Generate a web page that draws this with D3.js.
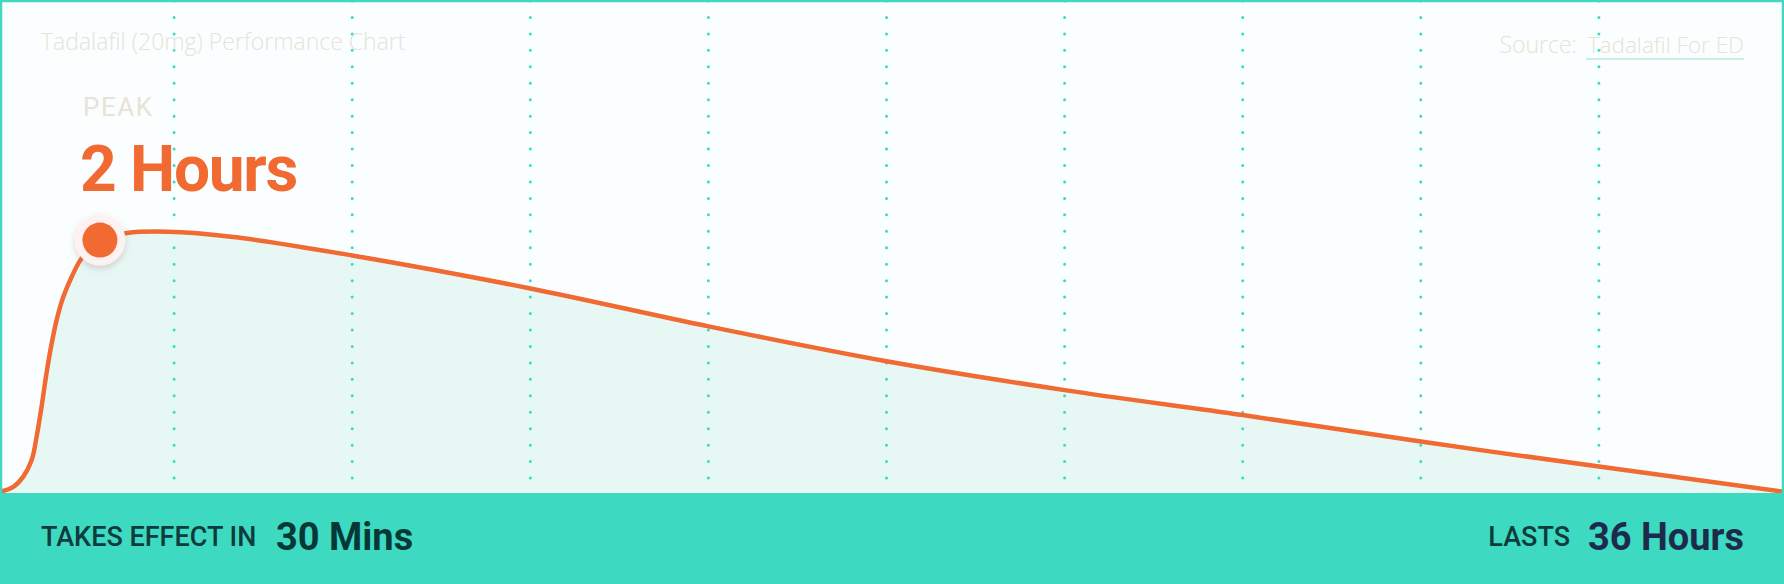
<!DOCTYPE html>
<meta charset="utf-8">
<script src="https://d3js.org/d3.v7.min.js"></script>
<style>
  body { margin: 0; background: #fff; }
  svg { display: block; }
</style>
<body>
<svg width="1784" height="584"></svg>
<script>
// effect curve, hours after dose vs relative effect (peak = 100)
var hours  = [0, 0.25, 0.45, 0.62, 0.72, 0.82, 0.92, 1.025, 1.125, 1.26, 1.43, 1.63, 2, 2.55, 3.36, 4.7, 7.1, 10.7, 14.3, 17.9, 21.5, 25.1, 28.7, 32.3, 36];
var effect = [0, 1.8, 5.7, 12.1, 21.1, 32.6, 45.5, 57.0, 66.0, 74.9, 82.6, 89.7, 96.7, 99.4, 99.9, 97.9, 90.8, 78.1, 63.5, 50.1, 39.0, 29.4, 19.2, 9.6, 0];
var gridCols = [1, 2, 3, 4, 5, 6, 7, 8, 9];   // guides between the 10 columns
var peak = { hour: 2, effect: 96.7 };

var title = 'Tadalafil (20mg) Performance Chart';
var sourceLabel = 'Source:', sourceName = 'Tadalafil For ED';
var peakLabel = 'PEAK', peakValue = '2 Hours';
var onsetLabel = 'TAKES EFFECT IN', onsetValue = '30 Mins';
var lastsLabel = 'LASTS', lastsValue = '36 Hours';

var W = 1784, H = 584, plotBottom = 493;
var teal = '#3ddac1', orange = '#f06a32';

var data = hours.map(function(h, i){ return { h: h, v: effect[i] }; });

var x = d3.scaleLinear().domain([0, 36]).range([1, W - 2]);
var y = d3.scaleLinear().domain([0, 100]).range([491.5, 231.5]);
var gx = d3.scaleLinear().domain([0, 10]).range([-4, 1777]);

var svg = d3.select('svg');

var defs = svg.append('defs');
var shadow = defs.append('filter').attr('id', 'shadow')
    .attr('x', '-50%').attr('y', '-50%').attr('width', '200%').attr('height', '200%');
shadow.append('feDropShadow').attr('dx', 0).attr('dy', 3).attr('stdDeviation', 3)
    .attr('flood-color', '#7a5a5a').attr('flood-opacity', 0.25);

// plot background
svg.append('rect').attr('x', 0).attr('y', 0).attr('width', W).attr('height', plotBottom)
    .attr('fill', '#fbfefe');

var curve = d3.curveCatmullRom.alpha(0.5);

// area under curve
var area = d3.area().x(function(d){ return x(d.h); }).y0(plotBottom).y1(function(d){ return y(d.v); })
    .curve(curve);
svg.append('path').datum(data).attr('d', area).attr('fill', '#e7f8f4');

// dotted vertical guides
svg.selectAll('line.grid').data(gridCols).enter().append('line')
    .attr('class', 'grid')
    .attr('x1', function(d){ return gx(d); }).attr('x2', function(d){ return gx(d); })
    .attr('y1', 1).attr('y2', plotBottom)
    .attr('stroke', teal).attr('stroke-width', 3)
    .attr('stroke-linecap', 'round')
    .attr('stroke-dasharray', '0 16.45');

// curve
var line = d3.line().x(function(d){ return x(d.h); }).y(function(d){ return y(d.v); })
    .curve(curve);
svg.append('path').datum(data).attr('d', line)
    .attr('fill', 'none').attr('stroke', orange).attr('stroke-width', 4.5)
    .attr('stroke-linejoin', 'round');

// frame
svg.append('path')
    .attr('d', 'M1,' + plotBottom + 'V1H' + (W - 1) + 'V' + plotBottom)
    .attr('fill', 'none').attr('stroke', teal).attr('stroke-width', 2.5);

// peak marker
svg.append('circle').attr('cx', x(peak.hour)).attr('cy', y(peak.effect)).attr('r', 25.5)
    .attr('fill', '#fdf1f1').attr('filter', 'url(#shadow)');
svg.append('circle').attr('cx', x(peak.hour)).attr('cy', y(peak.effect)).attr('r', 17.5)
    .attr('fill', orange);

// header texts
svg.append('text').attr('x', 41).attr('y', 50).text(title)
    .attr('font-family', '"Open Sans", sans-serif').attr('font-size', 23).attr('font-weight', 300)
    .attr('fill', '#e6e3d8');

svg.append('text').attr('x', 1577).attr('y', 52.5).attr('text-anchor', 'end').text(sourceLabel)
    .attr('font-family', '"Open Sans", sans-serif').attr('font-size', 23).attr('font-weight', 300)
    .attr('fill', '#e6e3d8');
svg.append('text').attr('x', 1744).attr('y', 52.5).attr('text-anchor', 'end').text(sourceName)
    .attr('font-family', '"Open Sans", sans-serif').attr('font-size', 22.5).attr('font-weight', 300)
    .attr('fill', '#e6e3d8');
svg.append('line').attr('x1', 1586).attr('x2', 1744).attr('y1', 59).attr('y2', 59)
    .attr('stroke', '#cbeee5').attr('stroke-width', 2);

svg.append('text').attr('x', 83).attr('y', 116).text(peakLabel)
    .attr('font-family', 'Roboto, sans-serif').attr('font-size', 26).attr('font-weight', 400)
    .attr('letter-spacing', 1.5).attr('fill', '#e6e3d8');

svg.append('text').attr('x', 80).attr('y', 191).text(peakValue)
    .attr('font-family', 'Roboto, sans-serif').attr('font-size', 64).attr('font-weight', 700)
    .attr('letter-spacing', -1.3).attr('fill', orange);

// bottom band
svg.append('rect').attr('x', 0).attr('y', plotBottom).attr('width', W).attr('height', H - plotBottom)
    .attr('fill', teal);

svg.append('text').attr('x', 41).attr('y', 546).text(onsetLabel)
    .attr('font-family', 'Roboto, sans-serif').attr('font-size', 27).attr('font-weight', 500)
    .attr('fill', '#0e3b3b');
svg.append('text').attr('x', 276).attr('y', 550).text(onsetValue)
    .attr('font-family', 'Roboto, sans-serif').attr('font-size', 38).attr('font-weight', 700)
    .attr('fill', '#063838');

svg.append('text').attr('x', 1570).attr('y', 546).attr('text-anchor', 'end').text(lastsLabel)
    .attr('font-family', 'Roboto, sans-serif').attr('font-size', 27).attr('font-weight', 500)
    .attr('fill', '#0e3b3b');
svg.append('text').attr('x', 1744).attr('y', 550).attr('text-anchor', 'end').text(lastsValue)
    .attr('font-family', 'Roboto, sans-serif').attr('font-size', 38).attr('font-weight', 700)
    .attr('fill', '#1c2b4b');
</script>
